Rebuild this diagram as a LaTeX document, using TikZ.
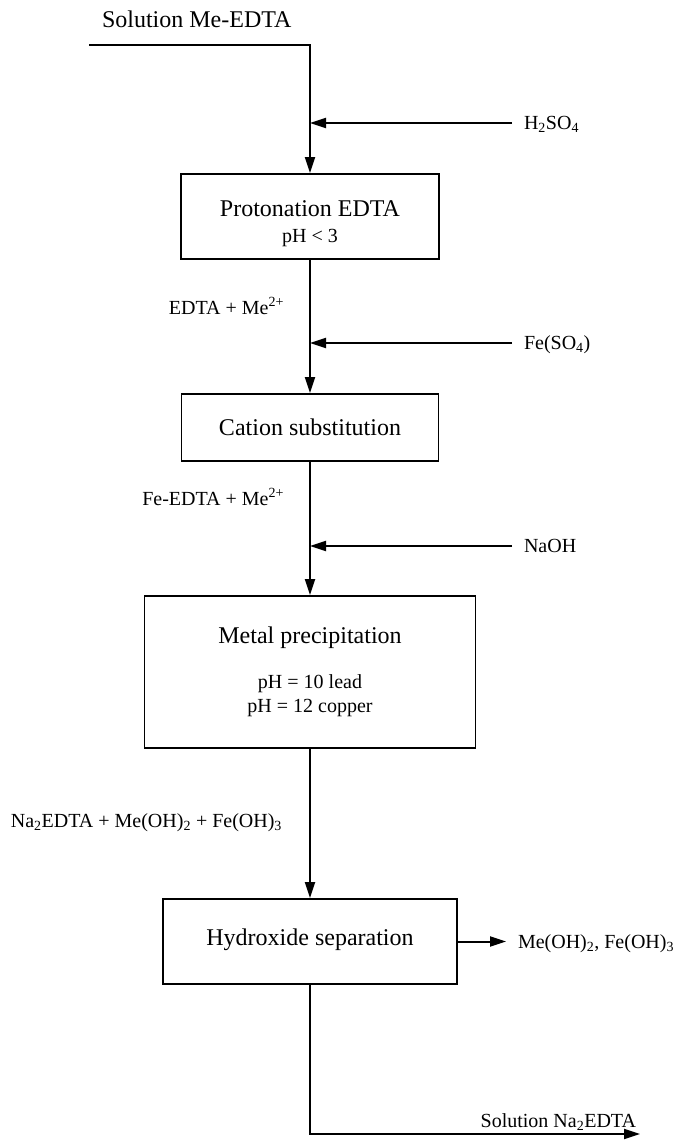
\documentclass[tikz,border=0pt]{standalone}
\usepackage{fontspec}
\setmainfont{Liberation Serif}
\usetikzlibrary{arrows.meta, calc}

\begin{document}
\begin{tikzpicture}[x=1pt, y=-1pt, line width=2pt,
    >={Triangle[length=16pt, width=10pt]},
    box/.style={draw, rectangle, line width=1.8pt, align=center, inner sep=0pt, font=\fontsize{24}{24}\selectfont},
    lbl/.style={inner sep=0pt, font=\fontsize{20}{24}\selectfont},
    feed/.style={lbl, anchor=west, inner xsep=11pt, text height=13.5pt, text depth=0pt}]
    \useasboundingbox (0,0) rectangle (682,1141);

    % incoming solution
    \node[lbl, anchor=base west, font=\fontsize{24}{28}\selectfont] (inlbl) at (101,27) {Solution Me-EDTA};
    \coordinate (in) at (89,45);
    \coordinate (top) at (310,45);

    % process steps
    \node[box, minimum width=258pt, minimum height=85pt] (proto) at (310,216.5) {\rule{0pt}{30pt}Protonation EDTA\\[2.5pt]{\fontsize{20}{24}\selectfont pH < 3}};
    \node[box, minimum width=257pt, minimum height=67pt] (subst) at (310,427.5) {Cation substitution};
    \node[box, minimum width=331pt, minimum height=152pt] (precip) at (310,672) {Metal precipitation\\[21.5pt]{\fontsize{20}{24}\selectfont pH = 10 lead}\\{\fontsize{20}{24}\selectfont pH = 12 copper}};
    \node[box, minimum width=294pt, minimum height=85pt] (sep) at (310,941.5) {Hydroxide separation\rule[-9pt]{0pt}{9pt}};

    % reagents
    \node[feed] (acid) at (512,123) {H\textsubscript{2}SO\textsubscript{4}};
    \node[feed] (iron) at (512,343) {Fe(SO\textsubscript{4})};
    \node[feed] (naoh) at (512,546) {NaOH};

    % streams between steps
    \node[lbl, anchor=base east] (mix1) at (285,314) {EDTA + Me\textsuperscript{2+}};
    \node[lbl, anchor=base east] (mix2) at (285,505) {Fe-EDTA + Me\textsuperscript{2+}};
    \node[lbl, anchor=base east] (mix3) at (283,827) {Na\textsubscript{2}EDTA + Me(OH)\textsubscript{2} + Fe(OH)\textsubscript{3}};

    % products
    \node[feed] (solid) at (506,942) {Me(OH)\textsubscript{2}, Fe(OH)\textsubscript{3}};
    \node[lbl, anchor=base east] (outlbl) at (637,1127) {Solution Na\textsubscript{2}EDTA};
    \coordinate (bend) at (310,1134);
    \coordinate (out) at (640,1134);

    \draw[->] (in) -- (top) -- (proto);
    \draw[->] (proto) -- (subst);
    \draw[->] (subst) -- (precip);
    \draw[->] (precip) -- (sep);
    \foreach \f in {acid, iron, naoh}
        \draw[->] (\f) -- (\f -| top);
    \draw[->] (sep.east) -- (sep.east -| solid.west);
    \draw[->] (sep) -- (bend) -- (out);
\end{tikzpicture}
\end{document}
